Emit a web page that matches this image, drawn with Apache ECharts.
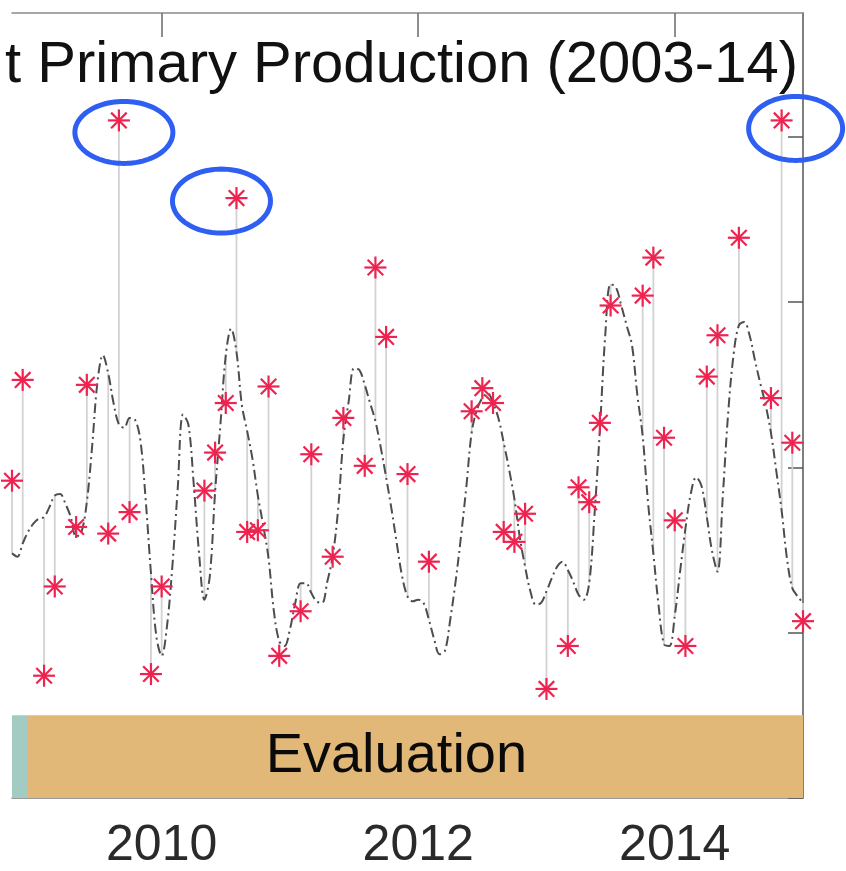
<!DOCTYPE html>
<html>
<head>
<meta charset="utf-8">
<script src="https://cdn.jsdelivr.net/npm/echarts@6/dist/echarts.min.js"></script>
<style>
  html, body { margin: 0; padding: 0; background: #ffffff; }
  #chart { width: 846px; height: 871px; }
</style>
</head>
<body>
<div id="chart"></div>
<script>
// Monthly observed NPP (asterisks) against the model estimate (dash-dot curve).
const obsMonths = [
  '2008-11', '2008-12', '2009-02', '2009-03', '2009-05', '2009-06', '2009-08', '2009-09',
  '2009-10', '2009-12', '2010-01', '2010-05', '2010-06', '2010-07', '2010-08', '2010-09',
  '2010-10', '2010-11', '2010-12', '2011-02', '2011-03', '2011-05', '2011-06', '2011-08',
  '2011-09', '2011-10', '2011-12', '2012-02', '2012-06', '2012-07', '2012-08', '2012-09',
  '2012-10', '2012-11', '2013-01', '2013-03', '2013-04', '2013-05', '2013-06', '2013-07',
  '2013-10', '2013-11', '2013-12', '2014-01', '2014-02', '2014-04', '2014-05', '2014-07',
  '2014-10', '2014-11', '2014-12', '2015-01'
];
const obsValues = [
  1.92, 2.53, 0.74, 1.28, 1.64, 2.50, 1.60, 4.10,
  1.73, 0.75, 1.28, 1.86, 2.09, 2.39, 3.63, 1.61,
  1.62, 2.49, 0.86, 1.13, 2.08, 1.46, 2.30, 2.01,
  3.21, 2.79, 1.96, 1.43, 2.34, 2.48, 2.39, 1.61,
  1.55, 1.72, 0.66, 0.92, 1.88, 1.79, 2.27, 2.98,
  3.04, 3.27, 2.18, 1.68, 0.92, 2.55, 2.80, 3.39,
  2.42, 4.10, 2.15, 1.07
];

// Model curve, two samples per month starting at modelStart.
const modelStart = '2008-11';
const modelValues = [
  // 2008-11 .. 2008-12
  1.48, 1.46, 1.54, 1.61,
  // 2009
  1.66, 1.69, 1.70, 1.76, 1.83, 1.84, 1.78, 1.70, 1.58, 1.61, 1.79, 2.13,
  2.52, 2.68, 2.57, 2.39, 2.26, 2.24, 2.30, 2.29, 2.17, 1.81, 1.36, 0.98,
  // 2010
  0.86, 1.04, 1.40, 1.87, 2.32, 2.26, 1.90, 1.48, 1.20, 1.34, 1.85, 2.26,
  2.68, 2.84, 2.70, 2.38, 2.22, 2.05, 1.83, 1.65, 1.45, 1.13, 0.95, 0.92,
  // 2011
  1.02, 1.18, 1.30, 1.30, 1.24, 1.19, 1.18, 1.31, 1.46, 1.74, 2.17, 2.40,
  2.60, 2.59, 2.50, 2.39, 2.28, 2.12, 1.94, 1.75, 1.54, 1.34, 1.22, 1.19,
  // 2012
  1.20, 1.18, 1.08, 0.96, 0.87, 0.89, 1.08, 1.31, 1.58, 1.88, 2.21, 2.35,
  2.42, 2.45, 2.39, 2.30, 2.15, 1.99, 1.81, 1.58, 1.40, 1.25, 1.17, 1.18,
  // 2013
  1.25, 1.33, 1.40, 1.43, 1.38, 1.31, 1.23, 1.20, 1.30, 1.72, 2.23, 2.80,
  3.11, 3.09, 2.98, 2.86, 2.74, 2.44, 2.19, 1.79, 1.48, 1.16, 0.93, 0.92,
  // 2014
  1.10, 1.37, 1.63, 1.84, 1.94, 1.89, 1.70, 1.49, 1.37, 1.83, 2.33, 2.68,
  2.86, 2.88, 2.80, 2.65, 2.51, 2.38, 2.21, 1.98, 1.74, 1.45, 1.27, 1.22,
  // 2015-01
  1.18
];

// Months whose observations are circled as outliers.
const outlierMonths = ['2009-09', '2010-08', '2014-11'];

// Calibration / evaluation periods shown as a strip along the bottom.
const periodNames = ['Calibration', 'Evaluation'];
const periodStart = [2003.0, 2008.95];
const periodEnd = [2008.95, 2015.0];
const periodShowName = [false, true];

const xTicks = [2010, 2012, 2014];
const yTicks = [0, 1, 2, 3, 4];

const titleText = 't Primary Production (2003-14)';

// ---- layout and styling ----
const FONT = '"Liberation Sans", Arial, Helvetica, sans-serif';
const X_MIN = 2008 + 10 / 12;
const X_MAX = 2015.0;
const Y_MIN = 0;
const Y_MAX = 4.75;
const STRIP_TOP = 0.5;                  // strip height in axis units
const STRIP_COLORS = ['#a2cbc2', '#e2b878'];
const EVAL_LABEL_X = 2011.83;           // where the period name sits
const ELLIPSE_LAYOUT = [                // [dx, dy, rx, ry] in px around each circled point
  [5, 12, 49, 31],
  [-15, 3, 49, 32],
  [14, 8, 47, 32]
];

function toYear(m) {
  const [y, mo] = m.split('-').map(Number);
  return y + (mo - 1) / 12;
}

const start = toYear(modelStart);
const modelData = modelValues.map((v, k) => [start + k / 24, v]);
const obsData = obsMonths.map((m, i) => {
  const x = toYear(m);
  const k = Math.round((x - start) * 24);
  return [x, obsValues[i], modelValues[k]];
});
const outlierData = outlierMonths.map((m, j) => {
  const i = obsMonths.indexOf(m);
  return [toYear(m), obsValues[i], j];
});
const stripData = periodNames.map((n, i) => [periodStart[i], periodEnd[i], i]);

const chart = echarts.init(document.getElementById('chart'), null, { renderer: 'canvas' });

const option = {
  backgroundColor: '#ffffff',
  animation: false,
  title: {
    text: titleText,
    left: 0,
    top: 32,
    textStyle: { fontFamily: FONT, fontSize: 58, fontWeight: 'normal', color: '#111111' }
  },
  grid: { left: 12, right: 43, top: 13, bottom: 71, containLabel: false },
  xAxis: [
    {
      type: 'value', position: 'bottom', min: X_MIN, max: X_MAX,
      axisLine: { show: true, onZero: false, lineStyle: { color: '#7a7a7a', width: 1.5 } },
      axisTick: { show: false },
      axisLabel: {
        customValues: xTicks, formatter: v => String(Math.round(v)),
        fontFamily: FONT, fontSize: 50, color: '#2a2a2a', margin: 23
      },
      splitLine: { show: false }
    },
    {
      type: 'value', position: 'top', min: X_MIN, max: X_MAX,
      axisLine: { show: true, onZero: false, lineStyle: { color: '#8a8a8a', width: 1.5 } },
      axisTick: { show: true, inside: true, length: 24, customValues: xTicks,
                  lineStyle: { color: '#6a6a6a', width: 1.5 } },
      axisLabel: { show: false },
      splitLine: { show: false }
    }
  ],
  yAxis: [
    {
      type: 'value', position: 'left', min: Y_MIN, max: Y_MAX, interval: 1,
      axisLine: { show: false, onZero: false }, axisTick: { show: false },
      axisLabel: { show: false }, splitLine: { show: false }
    },
    {
      type: 'value', position: 'right', min: Y_MIN, max: Y_MAX, interval: 1,
      axisLine: { show: true, onZero: false, lineStyle: { color: '#555555', width: 1.5 } },
      axisTick: { show: true, inside: true, length: 15, customValues: yTicks,
                  lineStyle: { color: '#555555', width: 1.5 } },
      axisLabel: { show: false }, splitLine: { show: false }
    }
  ],
  series: [
    {
      // period strip
      type: 'custom', name: 'periods', clip: true, z: 1,
      data: stripData,
      renderItem(params, api) {
        const i = api.value(2);
        const p0 = api.coord([api.value(0), STRIP_TOP]);
        const p1 = api.coord([api.value(1), 0]);
        const children = [{
          type: 'rect',
          shape: { x: p0[0], y: p0[1], width: p1[0] - p0[0], height: p1[1] - p0[1] },
          style: { fill: STRIP_COLORS[i] }
        }];
        if (periodShowName[i]) {
          const c = api.coord([EVAL_LABEL_X, STRIP_TOP / 2]);
          children.push({
            type: 'text',
            style: {
              text: periodNames[i], x: c[0], y: c[1],
              align: 'center', verticalAlign: 'middle',
              font: '56px ' + FONT, fill: '#0a0a0a'
            }
          });
        }
        return { type: 'group', children };
      }
    },
    {
      // residual stems between observation and model
      type: 'custom', name: 'stems', clip: false, z: 2,
      data: obsData,
      encode: { x: 0, y: [1, 2] },
      renderItem(params, api) {
        const a = api.coord([api.value(0), api.value(1)]);
        const b = api.coord([api.value(0), api.value(2)]);
        return {
          type: 'line',
          shape: { x1: a[0], y1: a[1], x2: b[0], y2: b[1] },
          style: { stroke: '#d2d2d2', lineWidth: 1.8 }
        };
      }
    },
    {
      type: 'line', name: 'model', z: 3,
      data: modelData,
      smooth: 0.35,
      showSymbol: false,
      lineStyle: { color: '#4d4d4d', width: 2, type: [10, 4, 2, 4] }
    },
    {
      // observations as asterisks
      type: 'custom', name: 'observed', clip: false, z: 4,
      data: obsData,
      encode: { x: 0, y: 1 },
      renderItem(params, api) {
        const p = api.coord([api.value(0), api.value(1)]);
        const r = 11, d = r * 0.7071;
        const st = { stroke: '#ee2350', lineWidth: 2.2 };
        const seg = (x1, y1, x2, y2) => ({ type: 'line', shape: { x1, y1, x2, y2 }, style: st });
        return {
          type: 'group',
          children: [
            seg(p[0] - r, p[1], p[0] + r, p[1]),
            seg(p[0], p[1] - r, p[0], p[1] + r),
            seg(p[0] - d, p[1] - d, p[0] + d, p[1] + d),
            seg(p[0] - d, p[1] + d, p[0] + d, p[1] - d)
          ]
        };
      }
    },
    {
      // outlier rings
      type: 'custom', name: 'outliers', clip: false, z: 5,
      data: outlierData,
      encode: { x: 0, y: 1 },
      renderItem(params, api) {
        const p = api.coord([api.value(0), api.value(1)]);
        const [dx, dy, rx, ry] = ELLIPSE_LAYOUT[api.value(2)];
        const cx = p[0] + dx, cy = p[1] + dy;
        const pts = [];
        for (let t = 0; t < 96; t++) {
          const a = t / 96 * Math.PI * 2;
          pts.push([cx + rx * Math.cos(a), cy + ry * Math.sin(a)]);
        }
        return {
          type: 'polygon',
          shape: { points: pts },
          style: { fill: 'none', stroke: '#2f5ff2', lineWidth: 5 }
        };
      }
    }
  ]
};

chart.setOption(option);
</script>
</body>
</html>
